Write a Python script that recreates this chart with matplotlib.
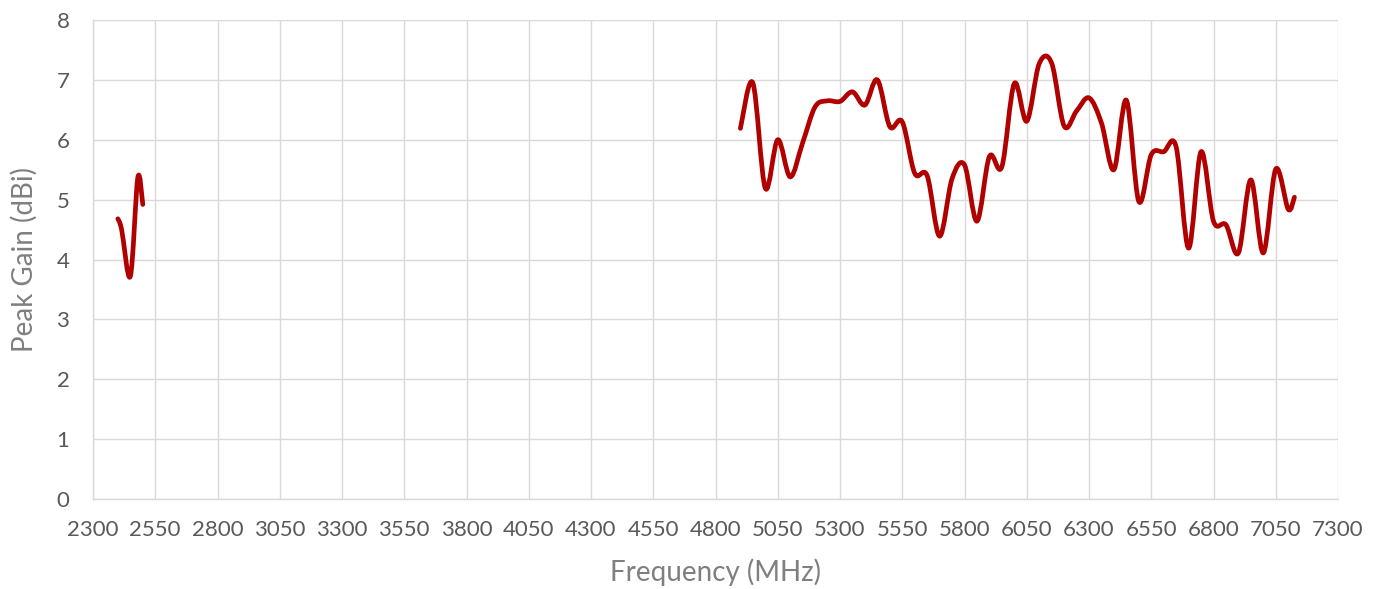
import matplotlib
matplotlib.use("Agg")
import matplotlib.pyplot as plt
from matplotlib.path import Path
from matplotlib.patches import PathPatch
import numpy as np

# ---- data ----
freq_24 = [2400, 2415, 2450, 2480, 2500]
gain_24 = [4.68, 4.50, 3.72, 5.37, 4.92]

freq_5 = [4900, 4950, 5000, 5050, 5100, 5150, 5200, 5250, 5300, 5350,
          5400, 5450, 5500, 5550, 5600, 5650, 5700, 5750, 5800, 5850,
          5900, 5950, 6000, 6050, 6100, 6150, 6200, 6250, 6300, 6350,
          6400, 6450, 6500, 6550, 6600, 6650, 6700, 6750, 6800, 6850,
          6900, 6950, 7000, 7050, 7100, 7125]
gain_5 = [6.19, 6.95, 5.19, 6.00, 5.38, 5.95, 6.55, 6.65, 6.64, 6.80,
          6.58, 7.00, 6.22, 6.30, 5.44, 5.40, 4.39, 5.35, 5.58, 4.64,
          5.72, 5.55, 6.94, 6.31, 7.27, 7.28, 6.23, 6.48, 6.70, 6.28,
          5.50, 6.66, 4.97, 5.75, 5.80, 5.88, 4.19, 5.80, 4.64, 4.58,
          4.11, 5.33, 4.11, 5.51, 4.84, 5.04]

x_ticks = list(range(2300, 7301, 250))
y_ticks = list(range(0, 9))

LINE_COLOR = "#B00000"
TICK_COLOR = "#595959"
LABEL_COLOR = "#7F7F7F"
GRID_COLOR = "#D9D9D9"


def smooth_path(xs, ys):
    """Excel-like smoothed line: Catmull-Rom spline expressed as cubic Beziers."""
    pts = np.column_stack([xs, ys]).astype(float)
    n = len(pts)
    verts = [pts[0]]
    codes = [Path.MOVETO]
    for i in range(n - 1):
        p0 = pts[i - 1] if i > 0 else pts[i]
        p1 = pts[i]
        p2 = pts[i + 1]
        p3 = pts[i + 2] if i + 2 < n else pts[i + 1]
        c1 = p1 + (p2 - p0) / 6.0
        c2 = p2 - (p3 - p1) / 6.0
        verts += [c1, c2, p2]
        codes += [Path.CURVE4] * 3
    return Path(verts, codes)


plt.rcParams['font.family'] = ['Lato', 'DejaVu Sans']

fig = plt.figure(figsize=(13.83, 5.89), dpi=100)
ax = fig.add_axes([93 / 1383, 1 - 499 / 589, (1338 - 93) / 1383, (499 - 20) / 589])

ax.set_xlim(2300, 7300)
ax.set_ylim(0, 8)
ax.set_xticks(x_ticks)
ax.set_yticks(y_ticks)
ax.grid(True, color=GRID_COLOR, linewidth=1.0)
ax.set_axisbelow(True)

for side in ("top", "right"):
    ax.spines[side].set_visible(False)
for side in ("left", "bottom"):
    ax.spines[side].set_color(GRID_COLOR)
    ax.spines[side].set_linewidth(1.0)

ax.tick_params(axis="both", length=0, labelsize=16, labelcolor=TICK_COLOR)
ax.tick_params(axis="x", pad=15)
ax.tick_params(axis="y", pad=17)

for xs, ys in ((freq_24, gain_24), (freq_5, gain_5)):
    patch = PathPatch(smooth_path(xs, ys), facecolor="none", edgecolor=LINE_COLOR,
                      linewidth=3.4, capstyle="round", joinstyle="round", zorder=3)
    ax.add_patch(patch)

ax.set_xlabel("Frequency (MHz)", fontsize=20, color=LABEL_COLOR, va="center")
ax.xaxis.set_label_coords(0.5, (499 - 572) / 479)
ax.set_ylabel("Peak Gain (dBi)", fontsize=20, color=LABEL_COLOR, va="center")
ax.yaxis.set_label_coords((24 - 93) / 1245, 0.5)

fig.savefig("out.png", dpi=100, facecolor="white")
